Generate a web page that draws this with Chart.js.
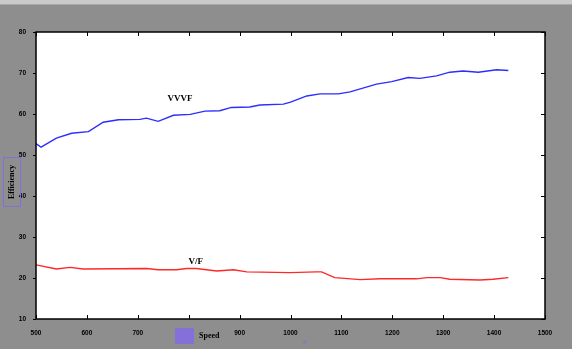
<!DOCTYPE html>
<html>
<head>
<meta charset="utf-8">
<script src="https://cdn.jsdelivr.net/npm/chart.js@4.4.0/dist/chart.umd.min.js"></script>
<style>
  html, body { margin: 0; padding: 0; background: #8e8e8e; }
  #wrap { width: 572px; height: 349px; }
</style>
</head>
<body>
<div id="wrap"><canvas id="myChart" width="572" height="349"></canvas></div>
<script>
// VVVF efficiency vs speed
let vvvfSpeed = [500, 510, 540, 570, 603, 632, 662, 704, 717, 740, 770, 803, 832, 861, 884, 920, 940, 986, 1000, 1032, 1058, 1094, 1117, 1169, 1199, 1231, 1254, 1287, 1313, 1339, 1369, 1405, 1428];
let vvvfEff = [52.8, 51.9, 54.1, 55.3, 55.7, 58.0, 58.6, 58.7, 59.0, 58.2, 59.7, 59.9, 60.7, 60.8, 61.6, 61.7, 62.2, 62.4, 62.9, 64.4, 64.9, 64.9, 65.4, 67.3, 67.9, 68.9, 68.7, 69.3, 70.2, 70.5, 70.2, 70.8, 70.6];

// V/F efficiency vs speed
let vfSpeed = [500, 540, 567, 593, 717, 740, 776, 796, 815, 855, 888, 914, 999, 1051, 1061, 1087, 1137, 1176, 1248, 1268, 1294, 1313, 1372, 1398, 1428];
let vfEff = [23.2, 22.2, 22.6, 22.2, 22.3, 22.0, 22.0, 22.3, 22.3, 21.7, 22.0, 21.5, 21.3, 21.5, 21.5, 20.1, 19.6, 19.8, 19.8, 20.1, 20.1, 19.7, 19.5, 19.7, 20.1];

let xTicks = [500, 600, 700, 800, 900, 1000, 1100, 1200, 1300, 1400, 1500];
let yTicks = [10, 20, 30, 40, 50, 60, 70, 80];

const toPoints = (xs, ys) => xs.map((x, i) => ({x: x, y: ys[i]}));

const frame = {
    id: 'frame',
    beforeDraw: (chart) => {
        const c = chart.ctx;
        const a = chart.chartArea;
        c.save();
        c.fillStyle = '#8e8e8e';
        c.fillRect(0, 0, chart.width, chart.height);
        c.fillStyle = '#cacaca';
        c.fillRect(0, 0, chart.width, 4);
        c.fillStyle = '#a8a8a8';
        c.fillRect(0, 4, chart.width, 1);
        c.fillStyle = 'white';
        c.fillRect(a.left, a.top, a.right - a.left, a.bottom - a.top);
        c.restore();
    },
    afterDraw: (chart) => {
        const c = chart.ctx;
        const a = chart.chartArea;
        const xs = chart.scales.x;
        const ys = chart.scales.y;
        c.save();
        // box
        c.strokeStyle = 'black';
        c.lineWidth = 1.5;
        c.strokeRect(a.left, a.top, a.right - a.left, a.bottom - a.top);
        // inward ticks
        c.lineWidth = 1;
        c.beginPath();
        xTicks.forEach(v => {
            const px = Math.round(xs.getPixelForValue(v)) + 0.5;
            c.moveTo(px, a.bottom); c.lineTo(px, a.bottom - 4);
            c.moveTo(px, a.top); c.lineTo(px, a.top + 4);
        });
        yTicks.forEach(v => {
            const py = Math.round(ys.getPixelForValue(v)) + 0.5;
            c.moveTo(a.left - 3, py); c.lineTo(a.left, py);
            c.moveTo(a.right, py); c.lineTo(a.right - 4, py);
        });
        c.stroke();

        // curve labels
        c.fillStyle = 'black';
        c.font = 'bold 9px "Liberation Serif"';
        c.textAlign = 'center';
        c.textBaseline = 'middle';
        c.fillText('VVVF', xs.getPixelForValue(783), ys.getPixelForValue(63.7));
        c.fillText('V/F', xs.getPixelForValue(814), ys.getPixelForValue(23.9));

        // y axis title with purple frame
        c.strokeStyle = '#8070d8';
        c.lineWidth = 1;
        c.strokeRect(3.5, 157.5, 17, 49);
        c.translate(12, 182);
        c.rotate(-Math.PI / 2);
        c.fillStyle = 'black';
        c.font = 'bold 8px "Liberation Serif"';
        c.fillText('Efficiency', 0, 0);
        c.setTransform(1, 0, 0, 1, 0, 0);

        // x axis title with purple block
        c.fillStyle = '#8470d8';
        c.fillRect(175, 328, 19, 16);
        c.fillStyle = 'black';
        c.font = 'bold 8px "Liberation Serif"';
        c.textAlign = 'left';
        c.fillText('Speed', 199, 336);
        c.fillStyle = '#8470d8';
        c.font = 'bold 7px "Liberation Serif"';
        c.fillText('S', 303, 342);
        c.restore();
    }
};

const ctx = document.getElementById('myChart').getContext('2d');

const init = () => {
    new Chart(ctx, {
        type: 'line',
        plugins: [frame],
        data: {
            datasets: [{
                label: 'VVVF',
                data: toPoints(vvvfSpeed, vvvfEff),
                borderColor: 'rgb(45, 45, 255)',
                borderWidth: 1.4,
                pointRadius: 0,
                tension: 0,
                fill: false
            }, {
                label: 'V/F',
                data: toPoints(vfSpeed, vfEff),
                borderColor: 'rgb(255, 40, 40)',
                borderWidth: 1.4,
                pointRadius: 0,
                tension: 0,
                fill: false
            }]
        },
        options: {
            responsive: false,
            animation: false,
            layout: { padding: { left: 0, top: 32, right: 27, bottom: 0 } },
            plugins: { legend: { display: false }, tooltip: { enabled: false } },
            scales: {
                x: {
                    type: 'linear',
                    min: 500,
                    max: 1500,
                    afterBuildTicks: (s) => { s.ticks = xTicks.map(v => ({value: v})); },
                    afterFit: (s) => { s.height = 30; },
                    grid: { display: false },
                    border: { display: false },
                    ticks: {
                        padding: 2,
                        maxRotation: 0,
                        autoSkip: false,
                        color: 'black',
                        callback: (v) => String(v),
                        font: { family: 'Liberation Sans', size: 6.5, weight: 'bold' }
                    }
                },
                y: {
                    min: 10,
                    max: 80,
                    afterBuildTicks: (s) => { s.ticks = yTicks.map(v => ({value: v})); },
                    afterFit: (s) => { s.width = 36; },
                    grid: { display: false },
                    border: { display: false },
                    ticks: {
                        padding: 2,
                        color: 'black',
                        callback: (v) => String(v),
                        font: { family: 'Liberation Sans', size: 6.5, weight: 'bold' }
                    }
                }
            }
        }
    });
};

init();
</script>
</body>
</html>
